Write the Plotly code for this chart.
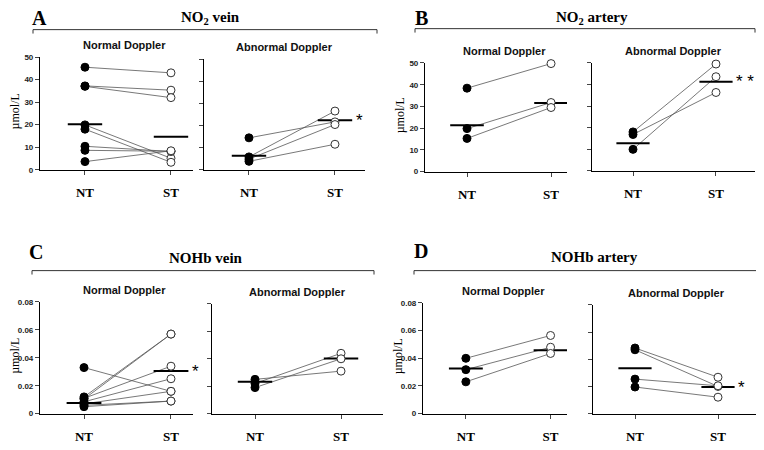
import plotly.graph_objects as go

# page body has an 8px margin, so the figure is drawn 8px in from the top-left
OFF = 8
W, H = 764 - OFF, 450 - OFF


def px(x):
    return (x - OFF) / W


def py(y):
    return 1 - (y - OFF) / H


groups = ["NT", "ST"]

# panel A - NO2 vein (µmol/L)
a_norm_nt = [45.5, 37.2, 37.0, 19.9, 18.0, 10.4, 8.6, 3.6]
a_norm_st = [43.0, 35.3, 32.0, 5.1, 3.3, 8.1, 8.2, 8.4]
a_norm_bar = [20.2, 14.6]
a_abn_nt = [14.4, 5.8, 4.8, 3.8]
a_abn_st = [21.6, 26.5, 20.4, 11.5]
a_abn_bar = [6.3, 22.3]

# panel B - NO2 artery (µmol/L)
b_norm_nt = [38.4, 19.8, 15.3]
b_norm_st = [49.7, 31.8, 29.5]
b_norm_bar = [21.3, 31.6]
b_abn_nt = [18.0, 16.8, 9.9]
b_abn_st = [49.5, 36.3, 43.6]
b_abn_bar = [12.7, 41.3]

# panel C - NOHb vein (µmol/L)
c_norm_nt = [0.033, 0.012, 0.0105, 0.011, 0.0085, 0.007, 0.006, 0.005]
c_norm_st = [0.016, 0.057, 0.057, 0.034, 0.025, 0.016, 0.009, 0.009]
c_norm_bar = [0.0077, 0.0305]
c_abn_nt = [0.025, 0.022, 0.019]
c_abn_st = [0.031, 0.044, 0.040]
c_abn_bar = [0.0232, 0.0403]

# panel D - NOHb artery (µmol/L)
d_norm_nt = [0.040, 0.0318, 0.023]
d_norm_st = [0.0565, 0.048, 0.0435]
d_norm_bar = [0.0327, 0.0459]
d_abn_nt = [0.0483, 0.047, 0.0254, 0.0196]
d_abn_st = [0.0268, 0.020, 0.0205, 0.0121]
d_abn_bar = [0.0334, 0.0196]

no2_ticks = [0, 10, 20, 30, 40, 50]
noh_ticks = [0, 0.02, 0.04, 0.06, 0.08]
noh_ticktext = ["0", "0.02", "0.04", "0.06", "0.08"]

# x0, x1, ytop, ybottom (pixels in reference), xrange, nt, st, bar, kind, normal?, star
panels = [
    (40, 193, 54, 169, [-0.523, 1.256], a_norm_nt, a_norm_st, a_norm_bar, "no2", True, ""),
    (204, 365, 56, 169, [-0.523, 1.349], a_abn_nt, a_abn_st, a_abn_bar, "no2", False, "*"),
    (425, 567, 60, 171, [-0.5, 1.19], b_norm_nt, b_norm_st, b_norm_bar, "no2", True, "*"),
    (592, 755, 60, 170, [-0.494, 1.47], b_abn_nt, b_abn_st, b_abn_bar, "no2", False, "* *"),
    (40, 193, 304, 418, [-0.506, 1.253], c_norm_nt, c_norm_st, c_norm_bar, "noh", True, "*"),
    (212, 383, 306, 418, [-0.5, 1.488], c_abn_nt, c_abn_st, c_abn_bar, "noh", False, ""),
    (423, 567, 305, 418, [-0.506, 1.194], d_norm_nt, d_norm_st, d_norm_bar, "noh", True, "*"),
    (593, 760, 307, 418, [-0.506, 1.506], d_abn_nt, d_abn_st, d_abn_bar, "noh", False, "*"),
]

fig = go.Figure()
layout = {}
annotations = []
shapes = []

for i, (x0, x1, yt, yb, xr, nt, st, bar, kind, normal, star) in enumerate(panels):
    n = "" if i == 0 else str(i + 1)
    xa, ya = "x" + n, "y" + n
    # connecting lines
    for a, b in zip(nt, st):
        fig.add_trace(go.Scatter(x=[0, 1], y=[a, b], mode="lines", xaxis=xa, yaxis=ya,
                                 line=dict(color="#555555", width=0.8), cliponaxis=False,
                                 showlegend=False, hoverinfo="skip"))
    # mean bars
    for k, v in enumerate(bar):
        fig.add_trace(go.Scatter(x=[k - 0.2, k + 0.2], y=[v, v], mode="lines", xaxis=xa, yaxis=ya,
                                 line=dict(color="black", width=2), cliponaxis=False,
                                 showlegend=False, hoverinfo="skip"))
    fig.add_trace(go.Scatter(x=[0] * len(nt), y=nt, mode="markers", xaxis=xa, yaxis=ya,
                             marker=dict(size=8, color="black", line=dict(color="black", width=1)),
                             cliponaxis=False, showlegend=False))
    fig.add_trace(go.Scatter(x=[1] * len(st), y=st, mode="markers", xaxis=xa, yaxis=ya,
                             marker=dict(size=8, color="white", line=dict(color="#333333", width=1)),
                             cliponaxis=False, showlegend=False))
    if kind == "no2":
        yr, tv, tt = [0, 50], no2_ticks, [str(t) for t in no2_ticks]
    else:
        yr, tv, tt = [0, 0.08], noh_ticks, noh_ticktext
    layout["xaxis" + n] = dict(domain=[px(x0), px(x1)], range=xr, anchor=ya,
                               tickvals=[0, 1], ticktext=groups, ticks="outside", ticklen=4,
                               showline=True, linecolor="black", linewidth=1.2, showgrid=False,
                               zeroline=False, ticklabelstandoff=7,
                               tickfont=dict(family="Liberation Serif", size=13, color="black", weight="bold"))
    layout["yaxis" + n] = dict(domain=[py(yb), py(yt)], range=yr, anchor=xa,
                               tickvals=tv, ticktext=tt, showticklabels=normal,
                               ticks="outside", ticklen=4, showline=True, linecolor="black",
                               linewidth=1.2, showgrid=False, zeroline=False,
                               tickfont=dict(family="Liberation Sans", size=8, color="#222", weight="bold"))
    annotations.append(dict(text="Normal Doppler" if normal else "Abnormal Doppler",
                            xref="paper", yref="paper", x=px((x0 + x1) / 2 + (8 if normal else 0)),
                            y=py(yt - 12), showarrow=False, xanchor="center", yanchor="middle",
                            font=dict(family="Liberation Sans", size=11, color="#111", weight="bold")))
    if normal:
        annotations.append(dict(text="µmol/L", xref="paper", yref="paper", x=px(x0 - 25),
                                y=py((yt + yb) / 2 - 2), textangle=-90, showarrow=False,
                                xanchor="center", yanchor="middle",
                                font=dict(family="Liberation Serif", size=12, color="black")))
    if star:
        annotations.append(dict(text=star, xref=xa, yref=ya, x=1.22, y=bar[1], xanchor="left",
                                yanchor="middle", showarrow=False,
                                font=dict(family="Liberation Sans", size=17, color="black")))

# panel headers and brackets
headers = [
    ("A", 39, 14, "NO<sub>2</sub> vein", 210, 14, 33, 377, 26),
    ("B", 421, 14, "NO<sub>2</sub> artery", 592, 14, 415, 755, 25),
    ("C", 36, 253, "NOHb vein", 206, 259, 32, 374, 272),
    ("D", 421, 252, "NOHb artery", 594, 258, 414, 757, 272),
]
for letter, lx, ly, title, tx, ty, bx0, bx1, by in headers:
    annotations.append(dict(text=letter, xref="paper", yref="paper", x=px(lx), y=py(ly),
                            xanchor="center", yanchor="middle", showarrow=False,
                            font=dict(family="Liberation Serif", size=20, color="black", weight="bold")))
    annotations.append(dict(text=title, xref="paper", yref="paper", x=px(tx), y=py(ty),
                            xanchor="center", yanchor="middle", showarrow=False,
                            font=dict(family="Liberation Serif", size=15, color="black", weight="bold")))
    for sx0, sy0, sx1, sy1 in [(bx0, by, bx1, by), (bx0, by, bx0, by + 4), (bx1, by, bx1, by + 4)]:
        shapes.append(dict(type="line", xref="paper", yref="paper", x0=px(sx0), x1=px(sx1),
                           y0=py(sy0), y1=py(sy1), line=dict(color="#333", width=1)))

fig.update_layout(width=W, height=H, margin=dict(l=0, r=0, t=0, b=0),
                  paper_bgcolor="white", plot_bgcolor="white",
                  annotations=annotations, shapes=shapes, **layout)

fig.write_html("out.html")
